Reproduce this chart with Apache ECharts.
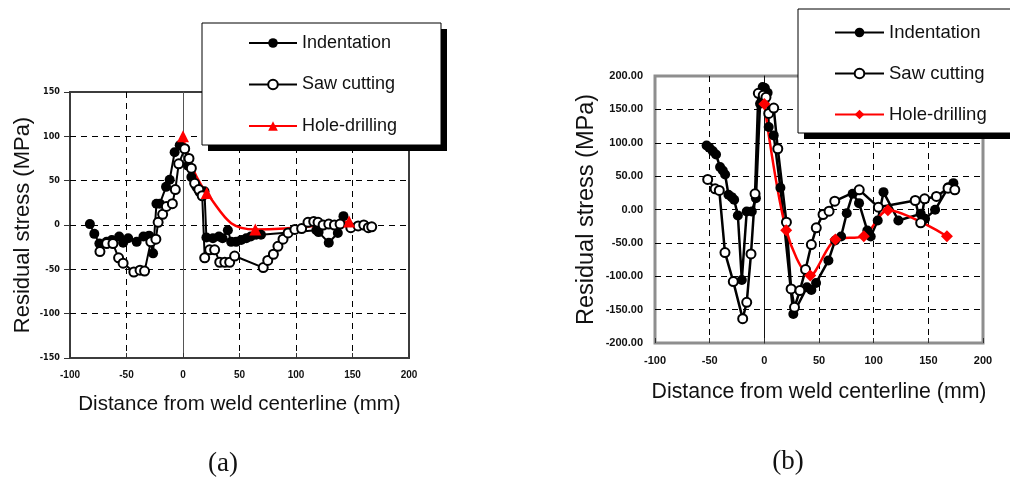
<!DOCTYPE html>
<html>
<head>
<meta charset="utf-8">
<script src="https://cdn.jsdelivr.net/npm/echarts@6/dist/echarts.min.js"></script>
<style>
  html, body { margin: 0; padding: 0; background: #fff; }
  #main { width: 1010px; height: 479px; }
</style>
</head>
<body>
<div id="main"></div>
<script>
// (a) values: [distance mm, stress MPa]
var aIndentation = [
  [-82.4, 1], [-78.5, -10], [-74, -21], [-67.6, -19], [-63, -17], [-56.5, -13], [-53, -20],
  [-48.5, -15], [-41, -19], [-35, -13], [-30, -12], [-26.5, -32], [-23.5, 24], [-20.5, 24],
  [-15, 43], [-11.8, 51], [-7.4, 82], [-2.9, 90], [1.5, 86], [4.4, 67], [7.4, 54], [11.8, 43],
  [14.7, 37], [19, 38], [20.7, -14], [26.5, -15], [31.8, -13], [35, -15], [39.7, -6], [42.6, -19],
  [47, -19], [51.5, -17], [56, -15], [60, -13], [64.7, -11], [69, -11], [118, -6], [120, -8],
  [129, -20], [137, -9], [142, 10]
];
var aSawCutting = [
  [-73.5, -30], [-67.6, -21], [-62, -21], [-57, -37], [-53, -43], [-43.5, -53], [-38, -51],
  [-34, -52], [-28.5, -19], [-24, -16], [-22, 3], [-18, 12], [-14.7, 21], [-9.4, 24], [-6.8, 40],
  [-3.8, 69], [1.5, 86], [5.3, 75], [7.4, 64], [10.3, 47], [14, 40], [17, 33], [19.2, -37],
  [23.6, -28], [28, -28], [32.5, -42], [37, -42], [41.3, -42], [45.7, -35], [71, -48], [75, -40],
  [80, -33], [84, -24], [88.5, -16], [93, -9], [99, -5], [105, -4], [110.6, 3], [115.7, 4],
  [119.5, 3], [124, 0], [129, 1], [134, 0], [139, 1], [148.5, -3], [155, -1], [160, 0],
  [164, -3], [167, -2]
];
var aHoleDrilling = [[0, 100], [21, 36], [64, -5], [147, 4]];

// (b)
var bIndentation = [
  [-52.8, 96], [-50.3, 92.5], [-47.2, 87.5], [-44.2, 82.5], [-40.5, 63.5], [-38, 58.5],
  [-35.9, 52.5], [-32.8, 22], [-29.8, 18.5], [-27.6, 14.5], [-24.2, -9], [-20.6, -105.5],
  [-16.1, -3], [-11.5, -3], [-7.7, 17], [-3.9, 158.5], [-1.5, 183.5], [0.5, 182], [3, 175],
  [4, 123.5], [8.6, 111], [14.7, 32.5], [26.5, -156.5], [39, -116.5], [43, -120.5], [47.3, -110],
  [58.6, -76.5], [64.7, -46.5], [70.2, -40.5], [75.4, -5.5], [80.8, 23.5], [86.6, 9.5],
  [94.2, -31.5], [97.3, -40.5], [103.7, -16.5], [109, 26], [122.6, -16.5], [143, -6.5],
  [147, -14], [156.2, -0.5], [168.4, 33.5], [172.9, 39.5]
];
var bSawCutting = [
  [-51.8, 45], [-45, 31], [-41.2, 28.5], [-36, -64.5], [-28.4, -108], [-19.8, -163.5],
  [-16.1, -139], [-12.2, -66.5], [-8.5, 23.5], [-5.5, 174], [-1, 171], [1.5, 168], [4, 144],
  [8.6, 152], [12.3, 91], [20.2, -19], [24.5, -119], [27.6, -146.5], [32.5, -121.5],
  [37.7, -90], [43, -52.5], [47.5, -27.5], [53.7, -7.5], [59.2, -2.5], [64.4, 12.5],
  [86.8, 29.5], [104.3, 3.5], [138, 13.5], [143, -20], [146.6, 16], [157.4, 19.5],
  [168, 32], [174.2, 29.5]
];
var bHoleDrilling = [[0, 158], [20, -31], [42, -99], [65, -45], [91, -40], [113, -1], [167, -40]];

var xTicks = { min: -100, max: 200, interval: 50 };
var aYTicks = { min: -150, max: 150, interval: 50 };
var bYTicks = { min: -200, max: 200, interval: 50 };
var seriesNames = ['Indentation', 'Saw cutting', 'Hole-drilling'];
var xTitle = 'Distance from weld centerline (mm)';
var yTitle = 'Residual stress (MPa)';

var chart = echarts.init(document.getElementById('main'));
var sans = 'Liberation Sans, Arial, sans-serif';
var dashed = { show: true, showMinLine: false, showMaxLine: false, lineStyle: { color: '#000', type: [6, 5], width: 1 } };

function xAxisOf(grid, tickFont, gap, nameSize) {
  return {
    type: 'value', gridIndex: grid, min: xTicks.min, max: xTicks.max, interval: xTicks.interval,
    name: xTitle, nameLocation: 'middle', nameGap: gap,
    nameTextStyle: { fontFamily: sans, fontSize: nameSize, color: '#111' },
    axisLine: { show: false, onZero: false },
    axisTick: { show: true, inside: true, length: 5, lineStyle: { color: '#333' } },
    axisLabel: { fontFamily: sans, fontWeight: 'bold', fontSize: tickFont, color: '#111', margin: 12 },
    splitLine: dashed
  };
}

var option = {
  animation: false,
  backgroundColor: '#fff',
  grid: [
    { left: 70, top: 92, width: 339, height: 266, show: true, borderColor: '#3c3c3c', borderWidth: 2, backgroundColor: 'transparent' },
    { left: 655, top: 76, width: 328, height: 267, show: true, borderColor: '#8e8e8e', borderWidth: 3, backgroundColor: 'transparent' }
  ],
  xAxis: [
    xAxisOf(0, 10, 36, 20.5),
    xAxisOf(1, 11, 39, 21.3)
  ],
  yAxis: [
    {
      type: 'value', gridIndex: 0, min: aYTicks.min, max: aYTicks.max, interval: aYTicks.interval,
      name: yTitle, nameLocation: 'middle', nameGap: 36,
      nameTextStyle: { fontFamily: sans, fontSize: 22, color: '#111' },
      axisLine: { show: false, onZero: false },
      axisTick: { show: true, length: 6, lineStyle: { color: '#333' } },
      axisLabel: { fontFamily: 'Liberation Sans Narrow, DejaVu Sans Condensed, sans-serif', fontWeight: 'bold', fontSize: 9, color: '#111', margin: 10 },
      splitLine: dashed
    },
    {
      type: 'value', gridIndex: 1, min: bYTicks.min, max: bYTicks.max, interval: bYTicks.interval,
      name: yTitle, nameLocation: 'middle', nameGap: 56,
      nameTextStyle: { fontFamily: sans, fontSize: 23.5, color: '#111' },
      axisLine: { show: false, onZero: false },
      axisTick: { show: false },
      axisLabel: { fontFamily: sans, fontWeight: 'bold', fontSize: 11, color: '#111', margin: 12,
        formatter: function (v) { return v.toFixed(2); } },
      splitLine: dashed
    },
    // zero lines (x = 0)
    { type: 'value', gridIndex: 0, min: aYTicks.min, max: aYTicks.max, axisLabel: { show: false }, axisTick: { show: false }, splitLine: { show: false },
      axisLine: { show: true, onZero: true, lineStyle: { color: '#555', width: 1 } } },
    { type: 'value', gridIndex: 1, min: bYTicks.min, max: bYTicks.max, axisLabel: { show: false }, axisTick: { show: false }, splitLine: { show: false },
      axisLine: { show: true, onZero: true, lineStyle: { color: '#111', width: 1 } } }
  ],
  legend: [
    {
      data: seriesNames, orient: 'vertical', left: 248, top: 34, itemGap: 23.5, itemWidth: 48, itemHeight: 12,
      padding: 0, selectedMode: false, textStyle: { fontFamily: sans, fontSize: 18, color: '#111' }
    },
    {
      data: seriesNames.map(function (n) { return n + ' (b)'; }),
      formatter: function (n) { return n.replace(' (b)', ''); },
      orient: 'vertical', left: 834, top: 23, itemGap: 22, itemWidth: 49, itemHeight: 12,
      padding: 0, selectedMode: false, textStyle: { fontFamily: sans, fontSize: 18.5, color: '#111' }
    }
  ],
  graphic: [
    { type: 'rect', z: 3, shape: { x: 208, y: 29, width: 239, height: 122 }, style: { fill: '#000' } },
    { type: 'rect', z: 3, shape: { x: 202, y: 23, width: 239, height: 122 }, style: { fill: '#fff', stroke: '#000', lineWidth: 1 } },
    { type: 'rect', z: 3, shape: { x: 804, y: 15, width: 220, height: 124 }, style: { fill: '#000' } },
    { type: 'rect', z: 3, shape: { x: 798, y: 9, width: 220, height: 124 }, style: { fill: '#fff', stroke: '#000', lineWidth: 1 } },
    { type: 'text', z: 3, style: { x: 223, y: 464, text: '(a)', fill: '#111', font: '27px Liberation Serif, Times New Roman, serif', textAlign: 'center', textVerticalAlign: 'middle' } },
    { type: 'text', z: 3, style: { x: 788, y: 462, text: '(b)', fill: '#111', font: '27px Liberation Serif, Times New Roman, serif', textAlign: 'center', textVerticalAlign: 'middle' } }
  ],
  series: [
    { name: 'Indentation', type: 'line', xAxisIndex: 0, yAxisIndex: 0, data: aIndentation,
      symbol: 'circle', symbolSize: 10, itemStyle: { color: '#000' }, lineStyle: { color: '#000', width: 2 } },
    { name: 'Saw cutting', type: 'line', xAxisIndex: 0, yAxisIndex: 0, data: aSawCutting,
      symbol: 'circle', symbolSize: 9, itemStyle: { color: '#fff', borderColor: '#000', borderWidth: 2 }, lineStyle: { color: '#000', width: 2 } },
    { name: 'Hole-drilling', type: 'line', xAxisIndex: 0, yAxisIndex: 0, data: aHoleDrilling, smooth: 0.5,
      symbol: 'triangle', symbolSize: 12, itemStyle: { color: '#ff0000' }, lineStyle: { color: '#ff0000', width: 2.5 } },
    { name: 'Indentation (b)', type: 'line', xAxisIndex: 1, yAxisIndex: 1, data: bIndentation,
      symbol: 'circle', symbolSize: 10, itemStyle: { color: '#000' }, lineStyle: { color: '#000', width: 2.5 } },
    { name: 'Saw cutting (b)', type: 'line', xAxisIndex: 1, yAxisIndex: 1, data: bSawCutting,
      symbol: 'circle', symbolSize: 9, itemStyle: { color: '#fff', borderColor: '#000', borderWidth: 2 }, lineStyle: { color: '#000', width: 2.5 } },
    { name: 'Hole-drilling (b)', type: 'line', xAxisIndex: 1, yAxisIndex: 1, data: bHoleDrilling, smooth: 0.3,
      symbol: 'diamond', symbolSize: 12, itemStyle: { color: '#ff0000' }, lineStyle: { color: '#ff0000', width: 2.5 } }
  ]
};
chart.setOption(option);
</script>
</body>
</html>
